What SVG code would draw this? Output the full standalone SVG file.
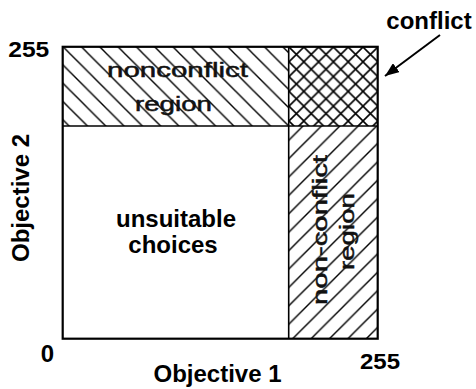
<svg xmlns="http://www.w3.org/2000/svg" width="476" height="389" viewBox="0 0 476 389">
  <style>
    .axis{font-family:"Liberation Sans",Arial,sans-serif;font-weight:bold;font-size:24px;fill:#000}
    .num{font-family:"Liberation Sans",Arial,sans-serif;font-weight:bold;font-size:22px;fill:#000}
    .reg{font-family:"Liberation Sans",Arial,sans-serif;font-size:21px;fill:#111;stroke:#111;stroke-width:0.5}
    .hatch{fill:none;stroke:#000;stroke-width:1.4}
    .div{fill:none;stroke:#000;stroke-width:1.6}
    .frame{fill:none;stroke:#000;stroke-width:2.2}
  </style>
  <defs>
    <!-- "\" hatching -->
    <pattern id="backHatch" patternUnits="userSpaceOnUse" x="16.3" y="0" width="18.3" height="18.3">
      <path class="hatch" d="M0,0 L18.3,18.3 M-3,15.3 L3,21.3 M15.3,-3 L21.3,3"/>
    </pattern>
    <!-- "/" hatching -->
    <pattern id="fwdHatch" patternUnits="userSpaceOnUse" x="5.8" y="0" width="18.4" height="18.4">
      <path class="hatch" d="M0,18.4 L18.4,0 M-3,3 L3,-3 M15.4,21.4 L21.4,15.4"/>
    </pattern>
    <!-- diagonal cross hatching -->
    <pattern id="crossHatch" patternUnits="userSpaceOnUse" x="289" y="47" width="14.8" height="14.8">
      <path d="M0,0 L14.8,14.8 M-3,11.8 L3,17.8 M11.8,-3 L17.8,3 M0,14.8 L14.8,0 M-3,3 L3,-3 M11.8,17.8 L17.8,11.8" fill="none" stroke="#000" stroke-width="1.6"/>
    </pattern>
    <marker id="arrowHead" markerUnits="userSpaceOnUse" markerWidth="14" markerHeight="11" viewBox="0 0 14 11" refX="14" refY="5.5" orient="auto">
      <path d="M0,0 L14,5.5 L0,11 z" fill="#000"/>
    </marker>
  </defs>

  <rect width="476" height="389" fill="#fff"/>

  <!-- regions of the objective space -->
  <g id="unsuitable">
    <rect x="62.7" y="126" width="226" height="212.5" fill="#fff"/>
    <text class="axis" x="176" y="227" text-anchor="middle">unsuitable</text>
    <text class="axis" x="173" y="253" text-anchor="middle">choices</text>
  </g>

  <g id="nonconflict-top">
    <rect x="62.7" y="47" width="226" height="79" fill="url(#backHatch)"/>
    <text class="reg" x="177.5" y="77" text-anchor="middle" textLength="141" lengthAdjust="spacingAndGlyphs">nonconflict</text>
    <text class="reg" x="173.5" y="111" text-anchor="middle" textLength="77" lengthAdjust="spacingAndGlyphs">region</text>
  </g>

  <g id="conflict">
    <rect x="288.7" y="47" width="89" height="79" fill="url(#crossHatch)"/>
  </g>

  <g id="nonconflict-right">
    <rect x="288.7" y="126" width="89" height="212.5" fill="url(#fwdHatch)"/>
    <text class="reg" transform="translate(326.5,230) rotate(-90)" text-anchor="middle" textLength="150" lengthAdjust="spacingAndGlyphs">non-conflict</text>
    <text class="reg" transform="translate(353.5,231.5) rotate(-90)" text-anchor="middle" textLength="77" lengthAdjust="spacingAndGlyphs">region</text>
  </g>

  <!-- dividing lines and outer frame -->
  <g id="frame">
    <line class="div" x1="62.7" y1="126" x2="377.7" y2="126"/>
    <line class="div" x1="288.7" y1="47" x2="288.7" y2="338.7"/>
    <rect class="frame" x="62.7" y="46.8" width="315" height="291.9"/>
  </g>

  <!-- axes labels -->
  <g id="axes">
    <text class="num" x="28.8" y="57.3" text-anchor="middle" textLength="41" lengthAdjust="spacingAndGlyphs">255</text>
    <text class="axis" x="47.5" y="361.5" text-anchor="middle">0</text>
    <text class="num" x="380" y="369" text-anchor="middle" textLength="40" lengthAdjust="spacingAndGlyphs">255</text>
    <text class="axis" x="217.5" y="381.5" text-anchor="middle">Objective 1</text>
    <text class="axis" transform="translate(28.5,198) rotate(-90)" text-anchor="middle">Objective 2</text>
  </g>

  <g id="conflict-label">
    <text class="axis" x="429" y="29" text-anchor="middle">conflict</text>
  </g>

  <!-- connectors -->
  <g id="connectors">
    <line x1="440" y1="35" x2="385" y2="76" stroke="#000" stroke-width="2" marker-end="url(#arrowHead)"/>
  </g>
</svg>
